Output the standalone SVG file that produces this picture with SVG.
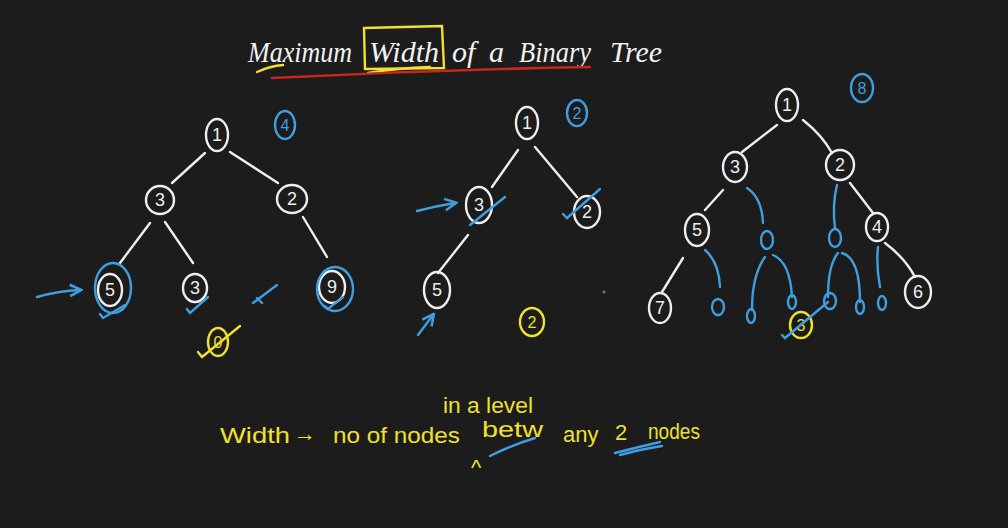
<svg xmlns="http://www.w3.org/2000/svg" width="1008" height="528" viewBox="0 0 1008 528">
<defs>
<style>
.bg{fill:#1c1c1c}
.w{fill:none;stroke:#eeeeee;stroke-width:2.4;stroke-linecap:round}
.b{fill:none;stroke:#3f9ee0;stroke-width:2.4;stroke-linecap:round}
.y{fill:none;stroke:#f0e030;stroke-width:2.4;stroke-linecap:round}
.r{fill:none;stroke:#c8271f;stroke-width:2.6;stroke-linecap:round}
.tw{fill:#eeeeee;font-family:"Liberation Sans",Arial,sans-serif;font-size:18px;text-anchor:middle}
.tb{fill:#3f9ee0;font-family:"Liberation Sans",Arial,sans-serif;font-size:16px;text-anchor:middle}
.ty{fill:#f0e030;font-family:"Liberation Sans",Arial,sans-serif;font-size:16px;text-anchor:middle}
.title{fill:#f2f2f2;font-family:"Liberation Serif","Times New Roman",serif;font-style:italic;font-size:30px}
.note{fill:#f0e030;font-family:"Liberation Sans",Arial,sans-serif;font-size:22px}
</style>
<marker id="ab" viewBox="0 0 10 10" refX="8" refY="5" markerWidth="6" markerHeight="6" orient="auto"><path d="M1,1 L9,5 L1,9" fill="none" stroke="#3f9ee0" stroke-width="1.8"/></marker>
</defs>
<rect class="bg" x="0" y="0" width="1008" height="528"/>

<g id="title">
<text class="title" x="248" y="62" textLength="104" lengthAdjust="spacingAndGlyphs">Maximum</text>
<text class="title" x="369" y="62" textLength="70" lengthAdjust="spacingAndGlyphs">Width</text>
<text class="title" x="452" y="62">of</text>
<text class="title" x="489" y="62">a</text>
<text class="title" x="519" y="62" textLength="72" lengthAdjust="spacingAndGlyphs">Binary</text>
<text class="title" x="610" y="62" textLength="52" lengthAdjust="spacingAndGlyphs">Tree</text>
<path class="y" d="M364,28 L442,26 L444,68 L365,69 Z"/>
<path class="y" d="M257,72 Q270,66 283,65"/>
<path class="y" d="M368,73 Q398,68 430,67"/>
<path class="r" d="M272,78 Q430,70 590,67"/>
</g>

<g id="connectors">
<path class="w" d="M205,153 L172,183"/>
<path class="w" d="M230,152 L278,183"/>
<path class="w" d="M150,223 L120,263"/>
<path class="w" d="M165,222 L193,263"/>
<path class="w" d="M303,217 L327,257"/>
<path class="w" d="M518,150 L492,187"/>
<path class="w" d="M535,147 L577,197"/>
<path class="w" d="M468,235 L438,273"/>
<path class="w" d="M777,125 L742,152"/>
<path class="w" d="M803,120 Q822,135 832,153"/>
<path class="w" d="M723,190 L705,210"/>
<path class="b" d="M747,188 Q762,198 763,223"/>
<path class="b" d="M837,185 Q832,205 835,228"/>
<path class="w" d="M850,183 L873,213"/>
<path class="w" d="M683,258 L662,292"/>
<path class="b" d="M705,250 Q719,262 720,287"/>
<path class="b" d="M765,257 Q752,275 752,310"/>
<path class="b" d="M773,255 Q790,262 792,297"/>
<path class="b" d="M838,253 Q828,265 828,297"/>
<path class="b" d="M842,253 Q860,258 860,302"/>
<path class="b" d="M878,247 Q876,265 880,287"/>
<path class="w" d="M885,243 Q905,258 915,277"/>
</g>

<g id="t1-n1"><ellipse class="w" cx="217" cy="135" rx="11" ry="16"/><text class="tw" x="217" y="141">1</text></g>
<g id="t1-n3"><ellipse class="w" cx="160" cy="200" rx="14" ry="14"/><text class="tw" x="160" y="206">3</text></g>
<g id="t1-n2"><ellipse class="w" cx="292" cy="199" rx="15" ry="14"/><text class="tw" x="292" y="205">2</text></g>
<g id="t1-n5"><ellipse class="w" cx="110" cy="290" rx="12" ry="16"/><text class="tw" x="110" y="296">5</text><ellipse class="b" cx="113" cy="288" rx="18" ry="25"/></g>
<g id="t1-n3b"><ellipse class="w" cx="195" cy="288" rx="12" ry="14"/><text class="tw" x="195" y="294">3</text></g>
<g id="t1-n9"><ellipse class="w" cx="332" cy="287" rx="13" ry="16"/><text class="tw" x="332" y="293">9</text><ellipse class="b" cx="335" cy="289" rx="18" ry="22"/></g>
<g id="t1-width"><ellipse class="b" cx="285" cy="125" rx="10" ry="14"/><text class="tb" x="285" y="131">4</text></g>
<g id="t1-marks">
<path class="b" d="M37,297 Q58,291 80,290" marker-end="url(#ab)"/>
<path class="b" d="M100,314 L103,318 L125,305"/>
<path class="b" d="M187,309 L190,313 L208,297"/>
<path class="b" d="M253,303 L277,285 M257,298 L262,303"/>
<path class="b" d="M325,306 L328,309 L343,297"/>
</g>
<g id="t1-null"><ellipse class="y" cx="218" cy="342" rx="10" ry="14"/><text class="ty" x="218" y="348">0</text><path class="y" d="M198,352 L202,357 L240,326"/></g>

<g id="t2-n1"><ellipse class="w" cx="527" cy="123" rx="11" ry="16"/><text class="tw" x="527" y="129">1</text></g>
<g id="t2-n3"><ellipse class="w" cx="479" cy="205" rx="13" ry="18"/><text class="tw" x="479" y="211">3</text><path class="b" d="M470,225 L505,197"/></g>
<g id="t2-n2"><ellipse class="w" cx="587" cy="212" rx="13" ry="16"/><text class="tw" x="587" y="218">2</text><path class="b" d="M563,214 L567,218 L600,189"/></g>
<g id="t2-n5"><ellipse class="w" cx="437" cy="290" rx="13" ry="18"/><text class="tw" x="437" y="296">5</text></g>
<g id="t2-width"><ellipse class="b" cx="577" cy="113" rx="10" ry="13"/><text class="tb" x="577" y="119">2</text></g>
<g id="t2-marks">
<path class="b" d="M417,211 Q436,206 455,203" marker-end="url(#ab)"/>
<path class="b" d="M418,335 L433,315" marker-end="url(#ab)"/>
<circle cx="604" cy="292" r="1.6" fill="#777"/>
</g>
<g id="t2-answer"><ellipse class="y" cx="532" cy="322" rx="12" ry="14"/><text class="ty" x="532" y="328">2</text></g>

<g id="t3-n1"><ellipse class="w" cx="787" cy="105" rx="11" ry="16"/><text class="tw" x="787" y="111">1</text></g>
<g id="t3-width"><ellipse class="b" cx="862" cy="88" rx="11" ry="14"/><text class="tb" x="862" y="94">8</text></g>
<g id="t3-n3"><ellipse class="w" cx="735" cy="167" rx="12" ry="15"/><text class="tw" x="735" y="173">3</text></g>
<g id="t3-n2"><ellipse class="w" cx="840" cy="165" rx="14" ry="15"/><text class="tw" x="840" y="171">2</text></g>
<g id="t3-n5"><ellipse class="w" cx="697" cy="230" rx="12" ry="16"/><text class="tw" x="697" y="236">5</text></g>
<g id="t3-z1"><ellipse class="b" cx="767" cy="240" rx="6" ry="9"/></g>
<g id="t3-z2"><ellipse class="b" cx="835" cy="238" rx="6" ry="9"/></g>
<g id="t3-n4"><ellipse class="w" cx="877" cy="227" rx="11" ry="14"/><text class="tw" x="877" y="233">4</text></g>
<g id="t3-n7"><ellipse class="w" cx="660" cy="308" rx="11" ry="15"/><text class="tw" x="660" y="314">7</text></g>
<g id="t3-z3"><ellipse class="b" cx="718" cy="307" rx="6" ry="8"/></g>
<g id="t3-z4"><ellipse class="b" cx="751" cy="316" rx="4" ry="7"/></g>
<g id="t3-z5"><ellipse class="b" cx="792" cy="302" rx="4" ry="7"/></g>
<g id="t3-z6"><ellipse class="b" cx="830" cy="301" rx="6" ry="8"/></g>
<g id="t3-z7"><ellipse class="b" cx="860" cy="307" rx="4" ry="7"/></g>
<g id="t3-z8"><ellipse class="b" cx="882" cy="303" rx="4" ry="7"/></g>
<g id="t3-n6"><ellipse class="w" cx="918" cy="292" rx="13" ry="16"/><text class="tw" x="918" y="298">6</text></g>
<g id="t3-answer"><ellipse class="y" cx="801" cy="325" rx="11" ry="13"/><text class="ty" x="801" y="331">3</text><path class="b" d="M782,335 L785,338 L828,302"/></g>

<g id="definition">
<text class="note" x="220" y="443" textLength="70" lengthAdjust="spacingAndGlyphs">Width</text>
<text class="note" x="294" y="441">→</text>
<text class="note" x="333" y="443" textLength="127" lengthAdjust="spacingAndGlyphs">no of nodes</text>
<text class="note" x="482" y="437" textLength="61" lengthAdjust="spacingAndGlyphs">betw</text>
<text class="note" x="563" y="442">any</text>
<text class="note" x="615" y="440">2</text>
<text class="note" x="648" y="439" textLength="52" lengthAdjust="spacingAndGlyphs">nodes</text>
<text class="note" x="443" y="413" font-size="18" textLength="90" lengthAdjust="spacingAndGlyphs">in a level</text>
<text class="note" x="471" y="475" font-size="18">^</text>
<path class="b" d="M490,456 Q512,445 535,438"/>
<path class="b" d="M615,453 Q638,447 660,442 M620,455 Q642,449 662,446"/>
</g>
</svg>
